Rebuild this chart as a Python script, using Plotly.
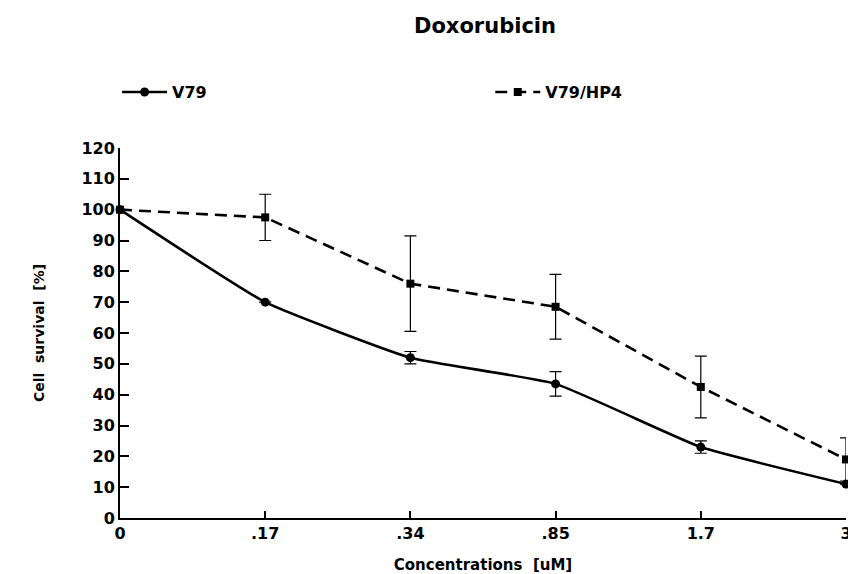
import plotly.graph_objects as go

categories = ["0", ".17", ".34", ".85", "1.7", "3"]
v79 = [100, 70, 52, 43.5, 23, 11]
v79_err = [0, 0, 2, 4, 2, 0]
hp4 = [100, 97.5, 76, 68.5, 42.5, 19]
hp4_err = [0, 7.5, 15.5, 10.5, 10, 7]
y_ticks = list(range(0, 121, 10))

FONT = "DejaVu Sans"

fig = go.Figure()
fig.add_trace(go.Scatter(
    x=categories, y=v79, name="<b>V79</b>", mode="lines+markers",
    line=dict(color="black", width=2.6, shape="spline", smoothing=0.4),
    marker=dict(symbol="circle", size=9, color="black"),
    error_y=dict(type="data", array=v79_err, color="black", thickness=1.2, width=6),
    cliponaxis=False, legend="legend",
))
fig.add_trace(go.Scatter(
    x=categories, y=hp4, name="<b>V79/HP4</b>", mode="lines+markers",
    line=dict(color="black", width=2.6, dash="12px,7px"),
    marker=dict(symbol="square", size=8, color="black"),
    error_y=dict(type="data", array=hp4_err, color="black", thickness=1.2, width=6),
    cliponaxis=False, legend="legend2",
))

leg_common = dict(orientation="h", xanchor="left", yanchor="middle", y=1.151,
                  itemwidth=45, font=dict(size=16, family=FONT),
                  bgcolor="rgba(0,0,0,0)")

# page body has an 8px margin; figure sized to fill the rest of the window
fig.update_layout(
    width=848, height=566,
    paper_bgcolor="white", plot_bgcolor="white",
    margin=dict(l=112, r=10, t=140, b=56, autoexpand=False),
    font=dict(family=FONT, color="black", size=13),
    title=dict(text="<b>Doxorubicin</b>", x=0.5625, xanchor="center", y=0.968,
               yanchor="middle", font=dict(size=21, family=FONT)),
    showlegend=True,
    legend=dict(x=-0.004, **leg_common),
    legend2=dict(x=0.51, **leg_common),
    xaxis=dict(type="category", range=[0, 5], showline=True, linecolor="black",
               linewidth=2, ticks="inside", ticklen=7, tickwidth=2, tickcolor="black",
               showgrid=False, zeroline=False, automargin=False,
               tickvals=categories, ticktext=["<b>%s</b>" % c for c in categories],
               tickfont=dict(size=16, family=FONT),
               title=dict(text="<b>Concentrations  [uM]</b>", font=dict(size=15, family=FONT),
                          standoff=18)),
    yaxis=dict(range=[0, 120], showline=True, linecolor="black", linewidth=2,
               ticks="inside", ticklen=9, tickwidth=2, tickcolor="black",
               showgrid=False, zeroline=False, automargin=False,
               tickvals=y_ticks, ticktext=["<b>%d</b>" % t for t in y_ticks],
               tickfont=dict(size=16, family=FONT),
               title=dict(text="<b>Cell  survival  [%]</b>", font=dict(size=14, family=FONT),
                          standoff=33)),
)

fig.write_html("out.html")
